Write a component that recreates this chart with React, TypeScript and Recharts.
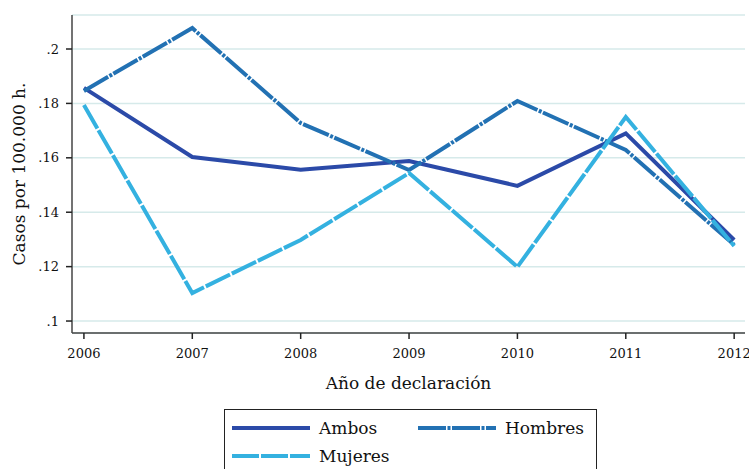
import React from 'react';
import { LineChart, Line, XAxis, YAxis, CartesianGrid } from 'recharts';

const years = [2006, 2007, 2008, 2009, 2010, 2011, 2012];
const ambos = [0.1857, 0.1603, 0.1556, 0.1588, 0.1497, 0.169, 0.1298];
const hombres = [0.1846, 0.2077, 0.1728, 0.1555, 0.1809, 0.1629, 0.128];
const mujeres = [0.1794, 0.1103, 0.1298, 0.1544, 0.1199, 0.175, 0.1276];
const yTicks = [0.1, 0.12, 0.14, 0.16, 0.18, 0.2];

const data = years.map((y, i) => ({ year: y, ambos: ambos[i], hombres: hombres[i], mujeres: mujeres[i] }));

const C_AMBOS = '#2b4aa8';
const C_HOMBRES = '#2271b3';
const C_MUJERES = '#34b1e0';
const FONT = '"DejaVu Serif", serif';

const fmt = (v: number) => String(v).replace(/^0/, '');

const YLabel = (props: any) => {
  const vb = props.viewBox || {};
  const cy = vb.y + vb.height / 2;
  return (
    <text x={0} y={0} transform={`translate(25, ${cy}) rotate(-90)`} textAnchor="middle" fontFamily={FONT} fontSize={17} fill="#111">
      Casos por 100.000 h.
    </text>
  );
};

const XLabel = (props: any) => {
  const vb = props.viewBox || {};
  const cx = vb.x + vb.width / 2;
  return (
    <text x={cx} y={vb.y + 56} textAnchor="middle" fontFamily={FONT} fontSize={17} fill="#111">
      Año de declaración
    </text>
  );
};

const LegendBox = () => (
  <div style={{ position: 'absolute', left: 224, top: 409, width: 373, height: 70, border: '1px solid #222', boxSizing: 'border-box', background: '#fff' }}>
    <svg width={373} height={70} style={{ position: 'absolute', left: 0, top: 0 }}>
      <line x1={7} x2={85} y1={18} y2={18} stroke={C_AMBOS} strokeWidth={4} />
      <text x={94} y={24} fontFamily={FONT} fontSize={17} fill="#111">Ambos</text>
      <line x1={193} x2={271} y1={18} y2={18} stroke={C_HOMBRES} strokeWidth={4} strokeDasharray="28 1.5 3 1.5" />
      <text x={280} y={24} fontFamily={FONT} fontSize={17} fill="#111">Hombres</text>
      <line x1={7} x2={85} y1={46} y2={46} stroke={C_MUJERES} strokeWidth={4} strokeDasharray="27 2" />
      <text x={94} y={52} fontFamily={FONT} fontSize={17} fill="#111">Mujeres</text>
    </svg>
  </div>
);

export default function App() {
  return (
    <div style={{ position: 'absolute', left: 0, top: 0, width: 749, height: 469, background: '#fff', overflow: 'hidden' }}>
      <LineChart width={749} height={469} data={data} margin={{ top: 15, right: 4, left: 0, bottom: 76 }}>
        <CartesianGrid vertical={false} stroke="#d6eaea" strokeWidth={1.5} />
        <XAxis
          dataKey="year"
          type="number"
          domain={[2005.89, 2012.1]}
          ticks={years}
          allowDataOverflow
          height={60}
          stroke="#444"
          strokeWidth={1.5}
          tickSize={6}
          tickMargin={10}
          tick={{ fontFamily: FONT, fontSize: 13, fill: '#111' }}
          tickLine={{ stroke: '#222' }}
          label={<XLabel />}
        />
        <YAxis
          type="number"
          domain={[0.0956, 0.2125]}
          ticks={yTicks}
          allowDataOverflow
          width={72}
          stroke="#444"
          strokeWidth={1.5}
          tickSize={6}
          tickMargin={7}
          tickFormatter={fmt}
          tick={{ fontFamily: FONT, fontSize: 13, fill: '#111' }}
          tickLine={{ stroke: '#222' }}
          label={<YLabel />}
        />
        <Line dataKey="ambos" stroke={C_AMBOS} strokeWidth={4} dot={false} isAnimationActive={false} />
        <Line dataKey="hombres" stroke={C_HOMBRES} strokeWidth={4} dot={false} isAnimationActive={false} strokeDasharray="28 1.5 3 1.5" />
        <Line dataKey="mujeres" stroke={C_MUJERES} strokeWidth={4} dot={false} isAnimationActive={false} strokeDasharray="27 2" />
      </LineChart>
      <LegendBox />
    </div>
  );
}
